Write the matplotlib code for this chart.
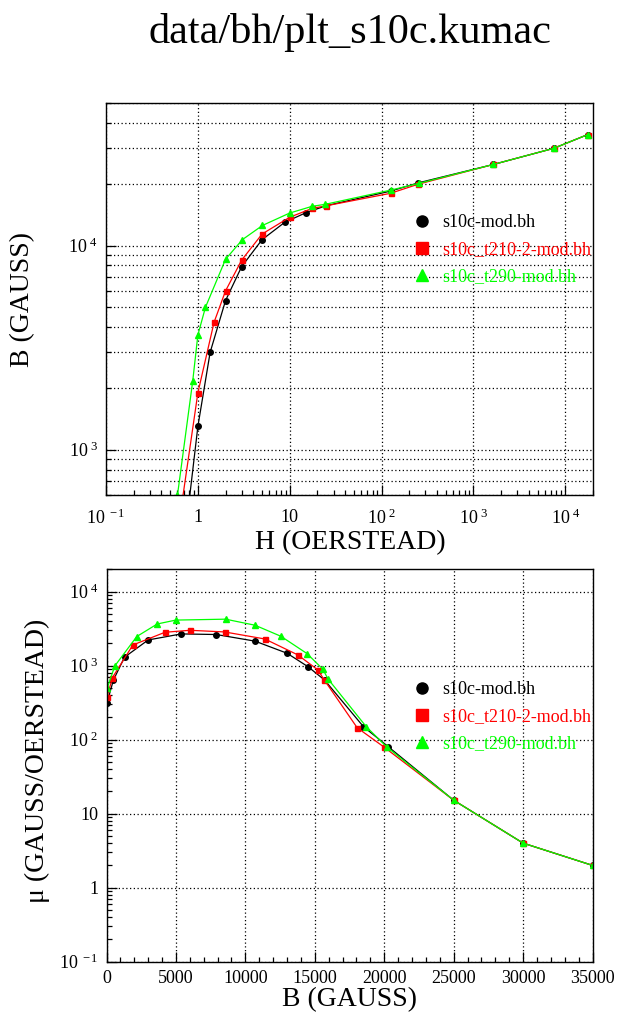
import numpy as np
import matplotlib
matplotlib.use("Agg")
import matplotlib.pyplot as plt
from matplotlib.ticker import FixedLocator, FuncFormatter, NullFormatter, MultipleLocator
from matplotlib.lines import Line2D

plt.rcParams['font.family'] = ['Liberation Serif', 'DejaVu Serif']
plt.rcParams['mathtext.fontset'] = 'custom'
plt.rcParams['mathtext.rm'] = 'Liberation Serif'
plt.rcParams['mathtext.it'] = 'Liberation Serif:italic'
plt.rcParams['mathtext.default'] = 'regular'

# ---------------- data ----------------
labels = ["s10c-mod.bh", "s10c_t210-2-mod.bh", "s10c_t290-mod.bh"]
colors = ["#000000", "#ff0000", "#00ff00"]
markers = ["o", "s", "^"]

H_black = [0.127, 0.78, 1.0, 1.36, 2.0, 3.0, 5.0, 8.8, 15.0, 25.0, 125, 250, 1650, 7500, 17500]
B_black = [40, 500, 1300, 3000, 5380, 7900, 10700, 13000, 14500, 15700, 18500, 20300, 25000, 30000, 35000]
mu_black = [316, 640, 1300, 2220, 2680, 2630, 2140, 1470, 970, 640, 150, 80, 15.2, 4.0, 2.0]

H_red = [0.118, 0.62, 1.0, 1.5, 2.0, 3.0, 5.0, 10.0, 17.5, 25.0, 125, 250, 1650, 7500, 17500]
B_red = [45, 430, 1900, 4210, 6000, 8500, 11400, 13780, 15220, 15680, 18050, 20000, 25000, 30000, 35000]
mu_red = [381, 690, 1900, 2820, 3000, 2850, 2290, 1395, 875, 641, 145, 79, 15.2, 4.0, 2.0]

H_green = [0.09, 0.6, 0.88, 1.0, 1.21, 2.0, 3.05, 5.05, 10.0, 17.5, 24.5, 125, 255, 1650, 7500, 17500]
B_green = [45, 600, 2180, 3650, 4990, 8570, 10700, 12560, 14450, 15580, 15950, 18700, 20200, 25000, 30000, 35000]
mu_green = [495, 990, 2470, 3650, 4120, 4240, 3510, 2490, 1450, 894, 661, 150, 79, 15.2, 4.0, 2.0]

series_H = [H_black, H_red, H_green]
series_B = [B_black, B_red, B_green]
series_mu = [mu_black, mu_red, mu_green]

title = "data/bh/plt_s10c.kumac"

# ---------------- figure ----------------
W, Hpx = 617, 1021
fig = plt.figure(figsize=(W / 100, Hpx / 100), dpi=100)


def rect(l, t, r, b):
    return [l / W, 1 - b / Hpx, (r - l) / W, (b - t) / Hpx]


ax1 = fig.add_axes(rect(106, 103, 593, 495))
ax2 = fig.add_axes(rect(106.5, 569.3, 592.5, 961.7))

msz = [4.0, 3.6, 3.8]
for Hs, Bs, c, m, s in zip(series_H, series_B, colors, markers, msz):
    ax1.plot(Hs, Bs, color=c, marker=m, ms=s, lw=0.9, mec=c, mfc=c)
for Bs, mus, c, m, s in zip(series_B, series_mu, colors, markers, msz):
    ax2.plot(Bs, mus, color=c, marker=m, ms=s, lw=0.9, mec=c, mfc=c)


def logfmt(v, pos):
    e = int(round(np.log10(v)))
    if e == 0:
        return "1"
    if e == 1:
        return "10"
    return r"10$^{\,\,%d}$" % e


tick_fs = 13
grid_kw = dict(color='black', linestyle=(0, (1, 2)), linewidth=0.9)

# top axes
ax1.set_xscale('log')
ax1.set_yscale('log')
ax1.set_xlim(0.1, 2.0e4)
ax1.set_ylim(600, 5.0e4)
ax1.xaxis.set_major_locator(FixedLocator([1e-1, 1, 10, 1e2, 1e3, 1e4]))
ax1.xaxis.set_minor_locator(FixedLocator([k * 10.0 ** e for e in range(-1, 5) for k in range(2, 10)]))
ax1.yaxis.set_major_locator(FixedLocator([1e3, 1e4]))
ax1.yaxis.set_minor_locator(FixedLocator([k * 10.0 ** e for e in range(2, 5) for k in range(2, 10)]))
ax1.xaxis.set_major_formatter(FuncFormatter(logfmt))
ax1.yaxis.set_major_formatter(FuncFormatter(logfmt))
ax1.xaxis.set_minor_formatter(NullFormatter())
ax1.yaxis.set_minor_formatter(NullFormatter())
ax1.grid(True, which='major', axis='x', **grid_kw)
ax1.grid(True, which='both', axis='y', **grid_kw)

# bottom axes
ax2.set_yscale('log')
ax2.set_xlim(0, 35000)
ax2.set_ylim(0.1, 2.0e4)
ax2.xaxis.set_major_locator(MultipleLocator(5000))
ax2.xaxis.set_minor_locator(MultipleLocator(1000))
ax2.yaxis.set_major_locator(FixedLocator([1e-1, 1, 10, 1e2, 1e3, 1e4]))
ax2.yaxis.set_minor_locator(FixedLocator([k * 10.0 ** e for e in range(-1, 5) for k in range(2, 10)]))
ax2.yaxis.set_major_formatter(FuncFormatter(logfmt))
ax2.yaxis.set_minor_formatter(NullFormatter())
ax2.xaxis.set_major_formatter(FuncFormatter(lambda v, p: "%d" % v))
ax2.grid(True, which='major', axis='both', **grid_kw)

for ax in (ax1, ax2):
    ax.set_axisbelow(True)
    for sp in ax.spines.values():
        sp.set_linewidth(1.0)
    ax.tick_params(which='both', direction='in', top=False, right=False,
                   labelsize=tick_fs, width=0.9)
    ax.tick_params(which='major', length=7)
    ax.tick_params(which='minor', length=3.5)
    ax.tick_params(axis='y', which='major', pad=6)
ax1.tick_params(axis='x', which='major', pad=10)
ax2.tick_params(axis='x', which='major', pad=6)

# legends
handles = [Line2D([], [], color=c, marker=m, ls='none', ms=8, mec=c, mfc=c)
           for c, m in zip(colors, markers)]
for ax, anchor in ((ax1, (413 / W, 1 - 214 / Hpx)), (ax2, (413 / W, 1 - 681 / Hpx))):
    leg = ax.legend(handles, labels, loc='upper left', bbox_to_anchor=anchor,
                    bbox_transform=fig.transFigure, frameon=False, fontsize=13,
                    handlelength=1.0, handletextpad=0.6, labelspacing=0.55,
                    borderpad=0, borderaxespad=0)
    for t, c in zip(leg.get_texts(), colors):
        t.set_color(c)

# labels
fig.text(350 / W, 1 - 33 / Hpx, title, ha='center', va='center', fontsize=30.5)
fig.text(350 / W, 1 - 543 / Hpx, "H (OERSTEAD)", ha='center', va='center', fontsize=20)
fig.text(350 / W, 1 - 1000 / Hpx, "B (GAUSS)", ha='center', va='center', fontsize=20)
fig.text(23 / W, 1 - 299 / Hpx, "B (GAUSS)", ha='center', va='center', rotation=90, fontsize=20)
fig.text(37 / W, 1 - 761 / Hpx, "\u03bc (GAUSS/OERSTEAD)", ha='center', va='center', rotation=90, fontsize=20)

fig.savefig("out.png", dpi=100)
